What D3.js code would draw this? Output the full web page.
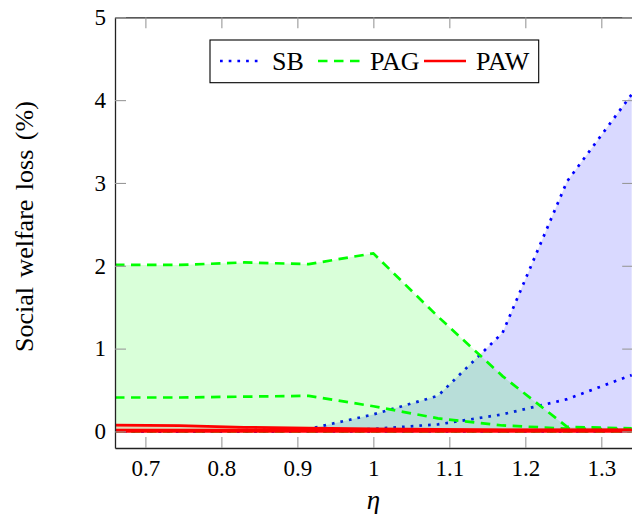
<!DOCTYPE html>
<html><head><meta charset="utf-8">
<script src="https://cdn.jsdelivr.net/npm/d3@7"></script>
<style>
body{margin:0;background:#fff}
svg{display:block}
</style>
</head><body><svg id="c" width="632" height="514"></svg>
<script>
// ---- data ----
const eta    = [0.66, 0.745, 0.83, 0.915, 1.0, 1.085, 1.17, 1.255, 1.34];
const sbMax  = [0.01, 0.01, 0.015, 0.03, 0.205, 0.43, 1.19, 3.02, 4.07];
const sbMean = [0.0, 0.0, 0.0, 0.01, 0.03, 0.085, 0.206, 0.39, 0.68];
const sbMin  = [0.0, 0.0, 0.0, 0.0, 0.0, 0.0, 0.0, 0.0, 0.0];
const pagMax  = [2.01, 2.01, 2.04, 2.02, 2.15, 1.387, 0.668, 0.055, 0.037];
const pagMean = [0.41, 0.41, 0.42, 0.43, 0.304, 0.158, 0.072, 0.034, 0.025];
const pagMin  = [0.0, 0.0, 0.0, 0.0, 0.0, 0.0, 0.0, 0.0, 0.0];
const pawMax  = [0.075, 0.07, 0.05, 0.04, 0.03, 0.025, 0.02, 0.02, 0.02];
const pawMean = [0.015, 0.015, 0.015, 0.015, 0.015, 0.015, 0.015, 0.015, 0.015];
const pawMin  = [0.0, 0.0, 0.0, 0.0, 0.0, 0.0, 0.0, 0.0, 0.0];
const seriesNames = ["SB", "PAG", "PAW"];
const xTicks = [0.7, 0.8, 0.9, 1, 1.1, 1.2, 1.3];
const yTicks = [0, 1, 2, 3, 4, 5];

// ---- styles ----
const FONT = '"Liberation Serif"';
const styles = {
  SB:  {color: "#0000ff", dash: "2.7,6"},
  PAG: {color: "#00ff00", dash: "9.5,6.5"},
  PAW: {color: "#ff0000", dash: null}
};
const series = [
  {name: "SB",  max: sbMax,  mean: sbMean,  min: sbMin},
  {name: "PAG", max: pagMax, mean: pagMean, min: pagMin},
  {name: "PAW", max: pawMax, mean: pawMean, min: pawMin}
];

const svg = d3.select("#c");
const x = d3.scaleLinear().domain([0.66, 1.34]).range([115, 631.7]);
const y = d3.scaleLinear().domain([-0.2, 5]).range([448, 17.3]);
const [xl, xr] = x.range();
const [yb, yt] = y.range();

svg.append("defs").append("clipPath").attr("id", "clip")
  .append("rect").attr("x", xl).attr("y", yt).attr("width", xr - xl + 2).attr("height", yb - yt);

const plot = svg.append("g").attr("clip-path", "url(#clip)");

series.forEach(s => {
  const st = styles[s.name];
  const area = d3.area()
    .x((d, i) => x(eta[i]))
    .y0((d, i) => y(s.min[i]))
    .y1((d, i) => y(s.max[i]));
  plot.append("path").datum(eta).attr("d", area)
    .attr("fill", st.color).attr("fill-opacity", 0.15).attr("stroke", "none");
  [s.max, s.mean, s.min].forEach(arr => {
    const line = d3.line().x((d, i) => x(eta[i])).y(d => y(d));
    plot.append("path").datum(arr).attr("d", line)
      .attr("fill", "none").attr("stroke", st.color).attr("stroke-width", 2.7)
      .attr("stroke-dasharray", st.dash);
  });
});

// ---- axes (ticks inward on all sides) ----
const tickLen = 11;
const gB = svg.append("g").attr("transform", `translate(0,${yb})`)
  .call(d3.axisBottom(x).tickValues(xTicks).tickFormat(d3.format("")).tickSizeInner(-tickLen).tickSizeOuter(0).tickPadding(11.5));
const gT = svg.append("g").attr("transform", `translate(0,${yt})`)
  .call(d3.axisTop(x).tickValues(xTicks).tickFormat("").tickSizeInner(-tickLen).tickSizeOuter(0));
const gL = svg.append("g").attr("transform", `translate(${xl},0)`)
  .call(d3.axisLeft(y).tickValues(yTicks).tickFormat(d3.format("")).tickSizeInner(-tickLen).tickSizeOuter(0).tickPadding(9));
const gR = svg.append("g").attr("transform", `translate(${xr + 1.5},0)`)
  .call(d3.axisRight(y).tickValues(yTicks).tickFormat("").tickSizeInner(-tickLen).tickSizeOuter(0));

[gB, gT, gL, gR].forEach(g => {
  g.select(".domain").attr("stroke", "#222").attr("stroke-width", 1.3);
  g.selectAll(".tick line").attr("stroke", "#999").attr("stroke-width", 1.1);
  g.selectAll(".tick text").style("font-family", FONT).style("font-size", "23px").attr("fill", "#000");
});

// axis labels
svg.append("text").attr("x", x(1)).attr("y", 509).attr("text-anchor", "middle")
  .style("font-family", FONT).style("font-size", "27px").style("font-style", "italic").text("η");
svg.append("text").attr("transform", `translate(33,${(yt + yb) / 2 - 6}) rotate(-90)`)
  .style("font-family", FONT).attr("text-anchor", "middle").style("font-size", "26px")
  .style("word-spacing", "3px").text("Social welfare loss (%)");

// ---- legend ----
const leg = svg.append("g");
leg.append("rect").attr("x", 210).attr("y", 40).attr("width", 328.7).attr("height", 42.7)
  .attr("fill", "#fff").attr("stroke", "#000").attr("stroke-width", 1.1);
const sampleStarts = [220, 318, 424];
seriesNames.forEach((n, i) => {
  const st = styles[n];
  leg.append("line").attr("x1", sampleStarts[i]).attr("x2", sampleStarts[i] + 42)
    .attr("y1", 61).attr("y2", 61).attr("stroke", st.color).attr("stroke-width", 2.7)
    .attr("stroke-dasharray", st.dash);
  leg.append("text").attr("x", sampleStarts[i] + 52).attr("y", 69.5)
    .style("font-family", FONT).style("font-size", "26px").text(n);
});
</script>
</body></html>
